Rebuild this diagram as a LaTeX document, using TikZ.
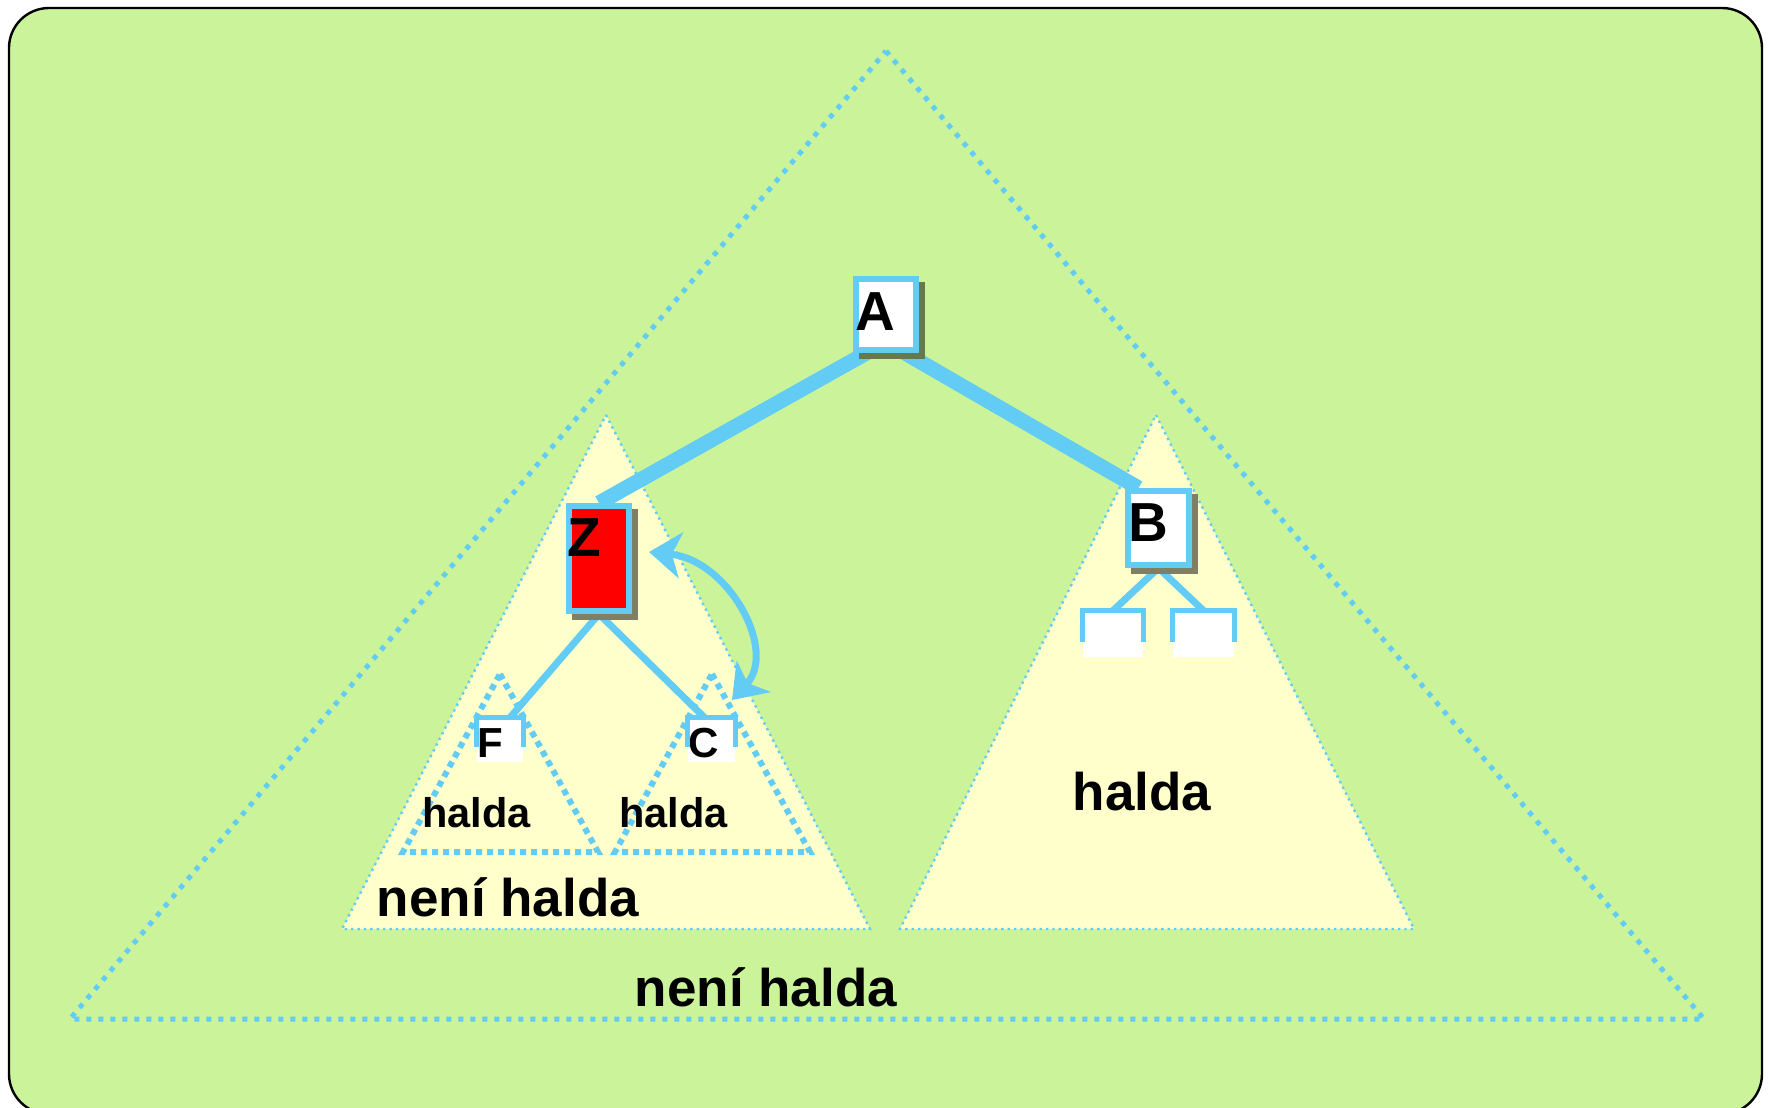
\documentclass[tikz,border=0pt]{standalone}
\usepackage{fontspec}
\setmainfont{Liberation Sans}
\usepackage{xcolor}
\usepackage{tikz}
\usetikzlibrary{calc,shadows,arrows.meta}

\definecolor{leaf}{RGB}{203,243,154}
\definecolor{cream}{RGB}{255,255,204}
\definecolor{sky}{RGB}{98,204,245}
\definecolor{shade}{RGB}{127,127,102}
\definecolor{leafshade}{RGB}{101,121,77}
\definecolor{hot}{RGB}{255,0,0}
\pgfdeclarelayer{back}
\pgfsetlayers{back,main}

\begin{document}
\begin{tikzpicture}[x=0.5pt, y=-0.5pt,
	keybox/.style={draw=sky, line width=3pt, fill=white, inner sep=0pt, minimum width=30pt,
		general shadow={fill=#1, draw=#1, line width=3pt, shadow xshift=3pt, shadow yshift=-3pt}},
	keybox/.default=shade,
	leafbox/.style={fill=white, inner sep=0pt, minimum height=22pt},
	bigletter/.style={font=\bfseries\fontsize{27.5}{30}\selectfont, inner sep=0pt},
	smallletter/.style={font=\bfseries\fontsize{21}{24}\selectfont, inner sep=0pt},
	bigtext/.style={font=\bfseries\fontsize{26.5}{30}\selectfont, inner sep=0pt},
	smalltext/.style={font=\bfseries\fontsize{20.75}{24}\selectfont, inner sep=0pt},
	rim/.style={draw=sky, line width=2.5pt},
	thickedge/.style={draw=sky, line width=7.5pt},
	thinedge/.style={draw=sky, line width=3.5pt},
	outerdots/.style={draw=sky, line width=2.5pt, dash pattern=on 2.5pt off 3.5pt},
	innerdots/.style={draw=sky, line width=3pt, dash pattern=on 3pt off 2.5pt},
	heapfill/.style={fill=cream, draw=sky, line width=1.2pt, dash pattern=on 1.2pt off 2pt},
	trade/.style={draw=sky, line width=3.5pt, {Stealth[length=16pt,width=23pt,inset=4.5pt]}-{Stealth[length=16pt,width=23pt,inset=4.5pt]}}
	]
	\useasboundingbox (0,0) rectangle (1769,1108);

	% boxes
	\node[keybox=leafshade, minimum height=35.5pt, label={[bigletter, xshift=-5.5pt, yshift=1.5pt]center:A}] (A) at (886,314.5) {};
	\node[keybox, fill=hot, minimum height=52.5pt, label={[bigletter, xshift=-7.25pt, yshift=10.25pt]center:Z}] (Z) at (599,558.5) {};
	\node[keybox, minimum width=30.5pt, minimum height=37pt, label={[bigletter, xshift=-5.25pt, yshift=2.75pt]center:B}] (B) at (1158.5,528) {};

	\node[leafbox, minimum width=23pt, label={[smallletter, xshift=-5pt, yshift=-1.5pt]center:F}] (F) at (500,740) {};
	\node[leafbox, minimum width=23.5pt, label={[smallletter, xshift=-3.75pt, yshift=-1.5pt]center:C}] (C) at (711.5,740) {};
	\node[leafbox, minimum width=30pt, minimum height=23pt] (Bl) at (1113,634) {};
	\node[leafbox, minimum width=30.5pt, minimum height=23pt] (Br) at (1203.5,634) {};

	\draw[rim] ($(F.north west)+(0,29)$) -- (F.north west) -- (F.north east) -- ($(F.north east)+(0,29)$);
	\draw[rim] ($(C.north west)+(0,29)$) -- (C.north west) -- (C.north east) -- ($(C.north east)+(0,29)$);
	\draw[rim] ($(Bl.north west)+(0,31)$) -- (Bl.north west) -- (Bl.north east) -- ($(Bl.north east)+(0,31)$);
	\draw[rim] ($(Br.north west)+(0,31)$) -- (Br.north west) -- (Br.north east) -- ($(Br.north east)+(0,31)$);

	% texts
	\node[smalltext] (haldaF) at (476.5,813) {halda};
	\node[smalltext] (haldaC) at (673.5,813) {halda};
	\node[bigtext] (haldaB) at (1142,792) {halda};
	\node[bigtext] (notleft) at (508,897) {není halda};
	\node[bigtext] (notall) at (766,987) {není halda};

	\draw[trade] (649,552) .. controls (728,560) and (778,650) .. (732,700);

	\begin{pgfonlayer}{back}
		\draw[black, line width=1.2pt, fill=leaf, rounded corners=20pt] (9,8) rectangle (1762,1114);
		\draw[outerdots] (886,51) -- (1704,1019) -- (70,1019) -- cycle;
		\draw[heapfill] (606,415) -- (870,929) -- (342,929) -- cycle;
		\draw[heapfill] (1156,415) -- (1414,929) -- (900,929) -- cycle;
		\draw[innerdots] (500,674) -- (598,852) -- (403,852) -- cycle;
		\draw[innerdots] (712,674) -- (810,852) -- (615,852) -- cycle;

		\coordinate (Afoot) at (886,342);
		\draw[thickedge] (Afoot) -- (Z.north);
		\draw[thickedge] (Afoot) -- ([xshift=-10pt]B.north);
		\draw[thinedge] (Z.south) -- ([xshift=5pt]F.north);
		\draw[thinedge] (Z.south) -- ([xshift=-3.5pt]C.north);
		\draw[thinedge] (B.south) -- (Bl.north);
		\draw[thinedge] (B.south) -- (Br.north);
	\end{pgfonlayer}
\end{tikzpicture}
\end{document}
